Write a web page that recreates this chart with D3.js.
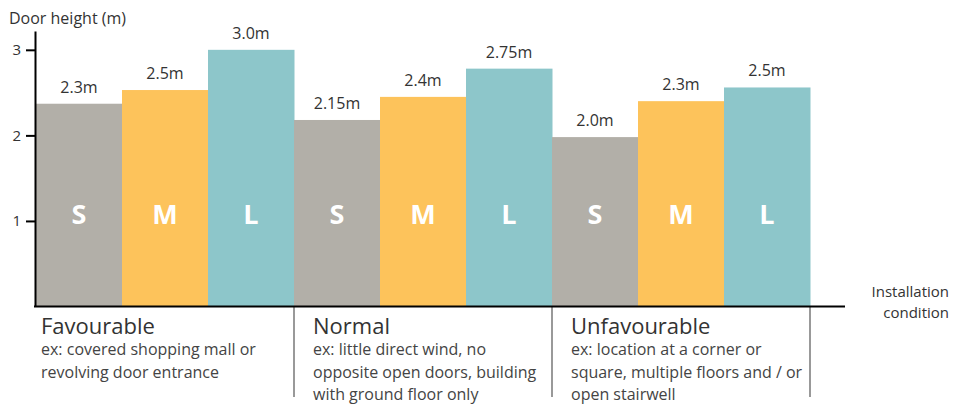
<!DOCTYPE html>
<html lang="en">
<head>
<meta charset="utf-8">
<title>Door height by installation condition</title>
<script src="https://d3js.org/d3.v7.min.js"></script>
<style>
  body { margin: 0; background: #fff; }
  text { font-family: "Open Sans", "Noto Sans", sans-serif; fill: #333; }
</style>
</head>
<body>
<script>
// data
var conditions = ["Favourable", "Normal", "Unfavourable"];
var sizes = ["S", "M", "L"];
var descriptions = [
  ["ex: covered shopping mall or", "revolving door entrance"],
  ["ex: little direct wind, no", "opposite open doors, building", "with ground floor only"],
  ["ex: location at a corner or", "square, multiple floors and / or", "open stairwell"]
];
// bar heights as drawn (m)
var heights = [
  [2.37, 2.53, 3.0],
  [2.18, 2.45, 2.78],
  [1.98, 2.40, 2.56]
];
// labels printed above the bars
var heightLabels = [
  ["2.3m", "2.5m", "3.0m"],
  ["2.15m", "2.4m", "2.75m"],
  ["2.0m", "2.3m", "2.5m"]
];
var yTicks = [1, 2, 3];
var colors = ["#b2afa8", "#fdc35b", "#8dc6ca"];

var w = 956, h = 407;
var svg = d3.select("body").append("svg")
  .attr("width", w)
  .attr("height", h);

var x0 = d3.scaleBand().domain(conditions).range([36, 810]).padding(0);
var x1 = d3.scaleBand().domain(sizes).range([0, x0.bandwidth()]).padding(0);
var y = d3.scaleLinear().domain([0, 3.22]).range([306.5, 31]);
var color = d3.scaleOrdinal().domain(sizes).range(colors);

// bars
var groups = svg.selectAll("g.group")
  .data(conditions)
  .enter().append("g")
  .attr("class", "group")
  .attr("transform", function(d) { return "translate(" + x0(d) + ",0)"; });

function barData(d, i) {
  return sizes.map(function(s, j) { return {size: s, v: heights[i][j], label: heightLabels[i][j]}; });
}

groups.selectAll("rect")
  .data(barData)
  .enter().append("rect")
  .attr("x", function(d) { return x1(d.size); })
  .attr("width", x1.bandwidth() + 0.5)
  .attr("y", function(d) { return y(d.v); })
  .attr("height", function(d) { return y(0) - y(d.v); })
  .attr("fill", function(d) { return color(d.size); });

// value labels
groups.selectAll("text.val")
  .data(barData)
  .enter().append("text")
  .attr("class", "val")
  .attr("x", function(d) { return x1(d.size) + x1.bandwidth() / 2; })
  .attr("y", function(d) { return y(d.v) - 11; })
  .attr("text-anchor", "middle")
  .style("font-size", "16px")
  .text(function(d) { return d.label; });

// size letters
groups.selectAll("text.size")
  .data(sizes)
  .enter().append("text")
  .attr("class", "size")
  .attr("x", function(d) { return x1(d) + x1.bandwidth() / 2; })
  .attr("y", 224)
  .attr("text-anchor", "middle")
  .style("font-size", "27px")
  .style("font-weight", "bold")
  .style("fill", "#fff")
  .text(function(d) { return d; });

// group separators
svg.selectAll("line.sep")
  .data(conditions)
  .enter().append("line")
  .attr("class", "sep")
  .attr("x1", function(d) { return x0(d) + x0.bandwidth(); })
  .attr("x2", function(d) { return x0(d) + x0.bandwidth(); })
  .attr("y1", 307)
  .attr("y2", 397)
  .attr("stroke", "#999")
  .attr("stroke-width", 2);

// x axis line
svg.append("line")
  .attr("x1", 34).attr("x2", 845)
  .attr("y1", y(0)).attr("y2", y(0))
  .attr("stroke", "#000")
  .attr("stroke-width", 2);

// y axis
var yAxis = svg.append("g")
  .attr("transform", "translate(35,0)")
  .call(d3.axisLeft(y).tickValues(yTicks).tickFormat(d3.format("d"))
    .tickSize(9).tickSizeOuter(0).tickPadding(5));
yAxis.select(".domain").attr("stroke", "#000").attr("stroke-width", 2);
yAxis.selectAll(".tick line").attr("stroke", "#000").attr("stroke-width", 2);
yAxis.selectAll(".tick text")
  .style("font-family", "'Open Sans', sans-serif")
  .style("font-size", "15px")
  .attr("fill", "#333");

svg.append("text")
  .attr("x", 9).attr("y", 24)
  .style("font-size", "16px")
  .text("Door height (m)");

// x axis title
var xt = svg.append("text")
  .attr("x", 949).attr("y", 297)
  .attr("text-anchor", "end")
  .style("font-size", "15px");
xt.append("tspan").attr("x", 949).text("Installation");
xt.append("tspan").attr("x", 949).attr("dy", 21).text("condition");

// condition labels
var cl = svg.selectAll("g.cond")
  .data(conditions)
  .enter().append("g")
  .attr("class", "cond")
  .attr("transform", function(d, i) { return "translate(" + (x0(d) + (i === 0 ? 5 : 19)) + ",0)"; });

cl.append("text")
  .attr("y", 334)
  .style("font-size", "22px")
  .text(function(d) { return d; });

cl.selectAll("text.desc")
  .data(function(d, i) { return descriptions[i]; })
  .enter().append("text")
  .attr("class", "desc")
  .attr("y", function(d, i) { return 355 + i * 22.5; })
  .style("font-size", "16px")
  .style("fill", "#444")
  .text(function(d) { return d; });
</script>
</body>
</html>
